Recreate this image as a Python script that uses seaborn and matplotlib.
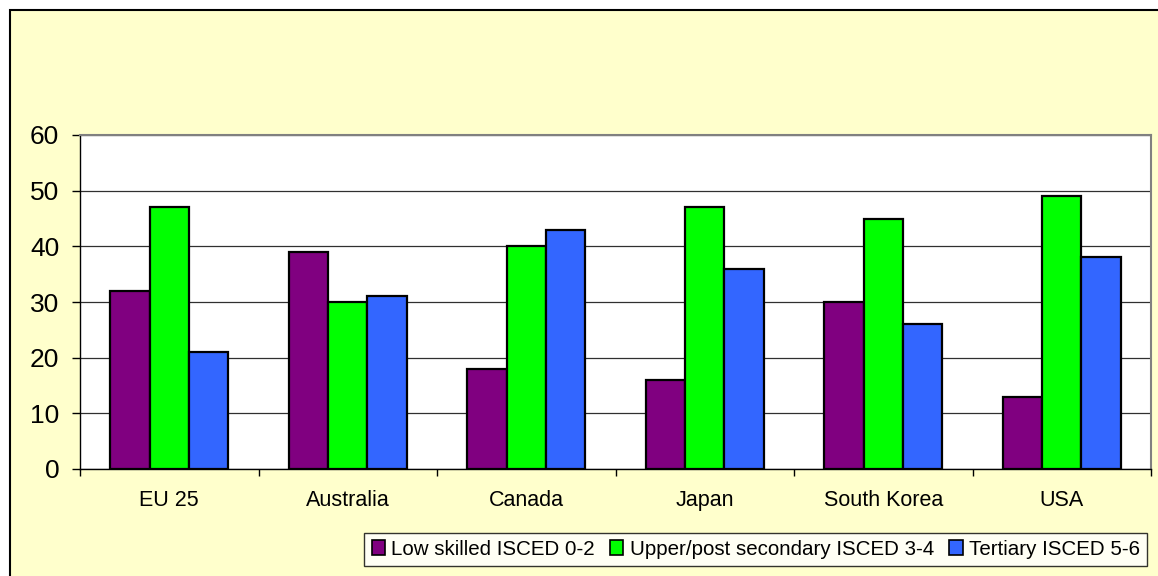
import matplotlib
matplotlib.use("Agg")
import matplotlib.pyplot as plt
from matplotlib.patches import Rectangle, Patch
from matplotlib.ticker import MultipleLocator, FixedLocator
import seaborn as sns
import pandas as pd

countries = ["EU 25", "Australia", "Canada", "Japan", "South Korea", "USA"]
levels = ["Low skilled ISCED 0-2", "Upper/post secondary ISCED 3-4", "Tertiary ISCED 5-6"]
low_skilled = [32, 39, 18, 16, 30, 13]
upper_secondary = [47, 30, 40, 47, 45, 49]
tertiary = [21, 31, 43, 36, 26, 38]
colors = ["#800080", "#00FF00", "#3366FF"]

rows = []
for series, name in zip([low_skilled, upper_secondary, tertiary], levels):
    for c, v in zip(countries, series):
        rows.append({"country": c, "level": name, "value": v})
df = pd.DataFrame(rows)

sns.set_theme(style="white")
plt.rcParams["font.family"] = ["Liberation Sans", "DejaVu Sans"]

W, H = 1158, 576
fig = plt.figure(figsize=(W / 100, H / 100), dpi=100, facecolor="white")

# pale yellow chart panel with black top/left border
panel = Rectangle((10 / W, -0.01), 1.02, (H - 10) / H + 0.01,
                  transform=fig.transFigure, facecolor="#FFFFCC",
                  edgecolor="black", linewidth=1.5, zorder=-10)
fig.add_artist(panel)

ax = fig.add_axes([80 / W, 1 - 469 / H, (1151 - 80) / W, (469 - 135) / H])
ax.set_zorder(1)
ax.set_facecolor("white")

sns.barplot(data=df, x="country", y="value", hue="level", palette=colors,
            order=countries, hue_order=levels, width=0.66, saturation=1,
            edgecolor="black", linewidth=1.6, ax=ax, legend=False, zorder=3)

ax.set_ylim(0, 60)
ax.set_xlim(-0.5, len(countries) - 0.5)
ax.yaxis.set_major_locator(MultipleLocator(10))
ax.grid(axis="y", color="#303030", linewidth=0.9, zorder=0)
ax.set_axisbelow(True)
ax.set_xlabel("")
ax.set_ylabel("")

for side in ["top", "right"]:
    ax.spines[side].set_visible(True)
    ax.spines[side].set_color("#808080")
    ax.spines[side].set_linewidth(1.5)
for side in ["left", "bottom"]:
    ax.spines[side].set_color("black")
    ax.spines[side].set_linewidth(1.0)

ax.tick_params(axis="y", which="major", direction="out", length=6, width=1,
               color="black", labelsize=19, pad=9, left=True, labelcolor="black")
ax.tick_params(axis="x", which="major", length=0, labelsize=15.5, pad=15,
               labelcolor="black")
ax.xaxis.set_minor_locator(FixedLocator([i + 0.5 for i in range(-1, len(countries))]))
ax.tick_params(axis="x", which="minor", direction="out", length=5, width=1,
               color="black", bottom=True)

handles = [Patch(facecolor=c, edgecolor="black", linewidth=1.2) for c in colors]
leg = fig.legend(handles, levels, loc="lower right",
                 bbox_to_anchor=(1147 / W, 1 - 566 / H), ncol=3, fontsize=14.8,
                 frameon=True, fancybox=False, edgecolor="black",
                 handlelength=0.65, handleheight=0.7, handletextpad=0.3,
                 columnspacing=0.75, borderpad=0.35, borderaxespad=0)
leg.get_frame().set_linewidth(1.0)
leg.get_frame().set_facecolor("white")
for t in leg.get_texts():
    t.set_color("black")

fig.savefig("out.png", dpi=100, facecolor="white")
